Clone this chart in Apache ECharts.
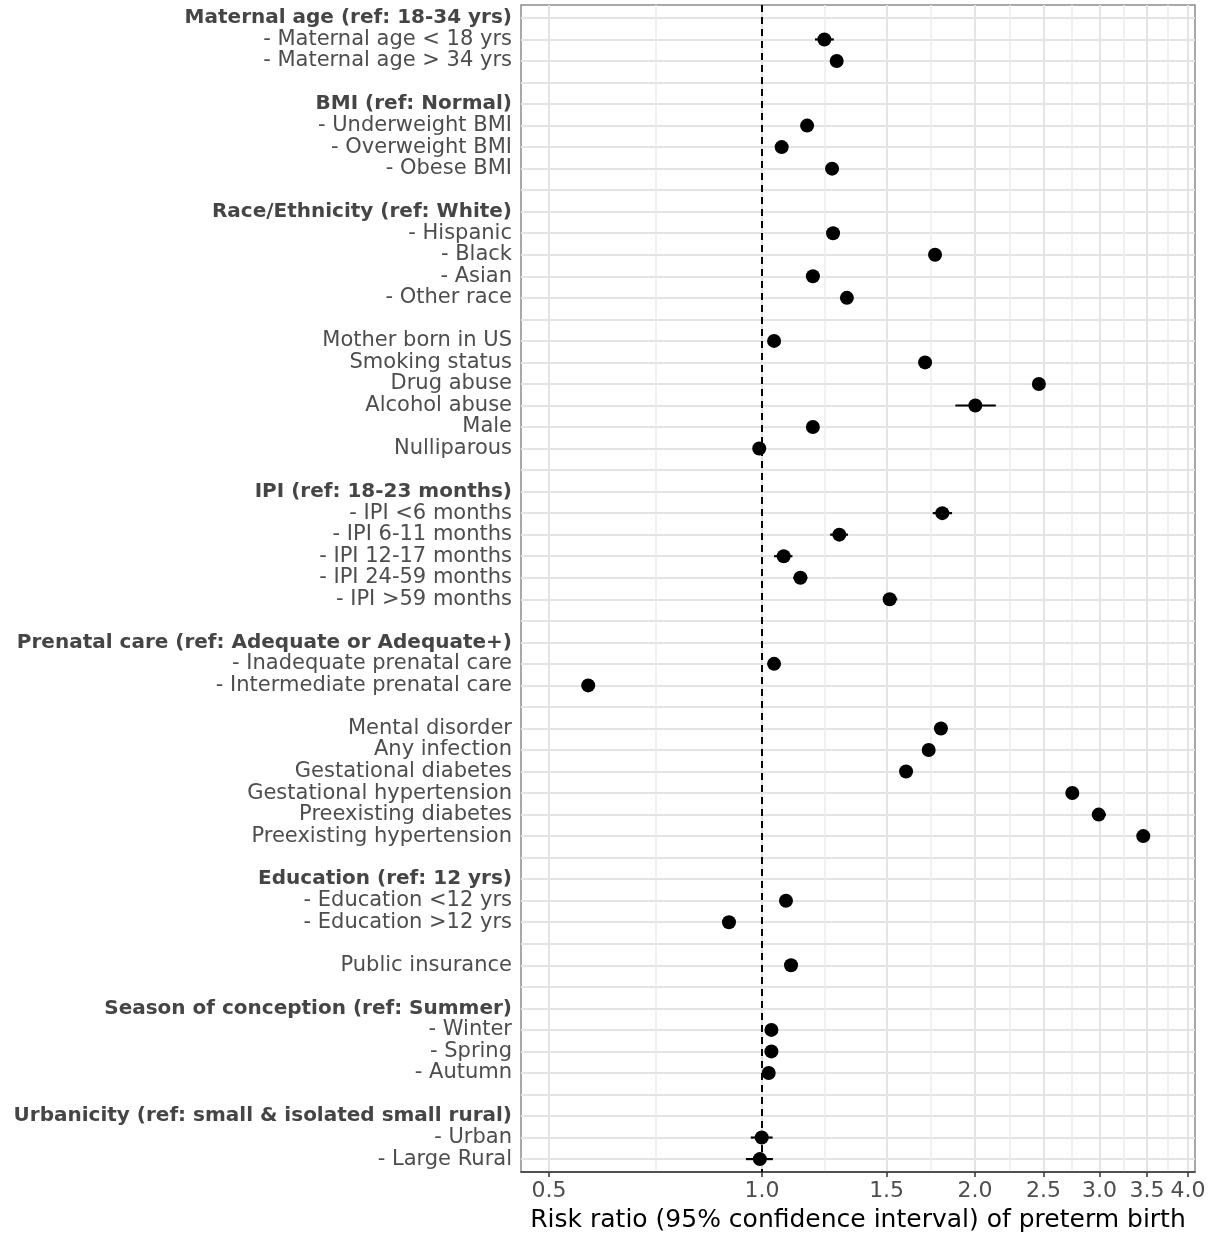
<!DOCTYPE html>
<html>
<head>
<meta charset="utf-8">
<script src="https://cdn.jsdelivr.net/npm/echarts@6/dist/echarts.min.js"></script>
<style>
html, body { margin: 0; padding: 0; background: #fff; }
#chart { width: 1212px; height: 1236px; }
</style>
</head>
<body>
<div id="chart"></div>
<script>
// rows top to bottom, '' = spacer row between groups
const rowLabels = [
  'Maternal age (ref: 18-34 yrs)', '- Maternal age < 18 yrs', '- Maternal age > 34 yrs', '',
  'BMI (ref: Normal)', '- Underweight BMI', '- Overweight BMI', '- Obese BMI', '',
  'Race/Ethnicity (ref: White)', '- Hispanic', '- Black', '- Asian', '- Other race', '',
  'Mother born in US', 'Smoking status', 'Drug abuse', 'Alcohol abuse', 'Male', 'Nulliparous', '',
  'IPI (ref: 18-23 months)', '- IPI <6 months', '- IPI 6-11 months', '- IPI 12-17 months', '- IPI 24-59 months', '- IPI >59 months', '',
  'Prenatal care (ref: Adequate or Adequate+)', '- Inadequate prenatal care', '- Intermediate prenatal care', '',
  'Mental disorder', 'Any infection', 'Gestational diabetes', 'Gestational hypertension', 'Preexisting diabetes', 'Preexisting hypertension', '',
  'Education (ref: 12 yrs)', '- Education <12 yrs', '- Education >12 yrs', '',
  'Public insurance', '',
  'Season of conception (ref: Summer)', '- Winter', '- Spring', '- Autumn', '',
  'Urbanicity (ref: small & isolated small rural)', '- Urban', '- Large Rural'
];

const headerLabels = [
  'Maternal age (ref: 18-34 yrs)', 'BMI (ref: Normal)', 'Race/Ethnicity (ref: White)',
  'IPI (ref: 18-23 months)', 'Prenatal care (ref: Adequate or Adequate+)',
  'Education (ref: 12 yrs)', 'Season of conception (ref: Summer)',
  'Urbanicity (ref: small & isolated small rural)'
];

const riskRatio = [
  null, 1.225, 1.275, null,
  null, 1.158, 1.066, 1.256, null,
  null, 1.260, 1.756, 1.180, 1.318, null,
  1.040, 1.700, 2.462, 2.002, 1.180, 0.991, null,
  null, 1.798, 1.286, 1.073, 1.133, 1.515, null,
  null, 1.040, 0.568, null,
  1.790, 1.720, 1.598, 2.745, 2.991, 3.458, null,
  null, 1.081, 0.898, null,
  1.099, null,
  null, 1.031, 1.031, 1.022, null,
  null, 0.999, 0.993
];

const ciLower = [
  null, 1.188, 1.262, null,
  null, 1.145, 1.055, 1.240, null,
  null, 1.248, 1.735, 1.165, 1.300, null,
  1.030, 1.680, 2.430, 1.876, 1.168, 0.982, null,
  null, 1.743, 1.248, 1.040, 1.107, 1.484, null,
  null, 1.028, 0.560, null,
  1.770, 1.700, 1.580, 2.715, 2.933, 3.420, null,
  null, 1.068, 0.888, null,
  1.086, null,
  null, 1.018, 1.018, 1.008, null,
  null, 0.964, 0.949
];

const ciUpper = [
  null, 1.263, 1.288, null,
  null, 1.171, 1.077, 1.272, null,
  null, 1.272, 1.777, 1.195, 1.336, null,
  1.050, 1.720, 2.494, 2.140, 1.192, 1.000, null,
  null, 1.856, 1.323, 1.104, 1.159, 1.553, null,
  null, 1.052, 0.576, null,
  1.810, 1.740, 1.616, 2.775, 3.063, 3.496, null,
  null, 1.094, 0.908, null,
  1.112, null,
  null, 1.044, 1.044, 1.036, null,
  null, 1.035, 1.036
];

const xTicks = [0.5, 1.0, 1.5, 2.0, 2.5, 3.0, 3.5, 4.0];
const refValue = 1;

// minor grid lines sit halfway between the major breaks on the log scale
const xMinor = xTicks.slice(1).map((t, i) => Math.sqrt(t * xTicks[i]));
const rowIdx = rowLabels.map((_, i) => i + 1);

const points = [];
const bars = [];
riskRatio.forEach((v, i) => {
  if (v == null) return;
  points.push([v, i + 1]);
  bars.push([ciLower[i], ciUpper[i], i + 1]);
});

const font = 'DejaVu Sans';
const chart = echarts.init(document.getElementById('chart'), null, { renderer: 'canvas' });

const option = {
  animation: false,
  backgroundColor: '#fff',
  grid: {
    left: 521, top: 5, right: 17, bottom: 64,
    show: true, borderColor: '#8c8c8c', borderWidth: 1.5,
    containLabel: false, outerBoundsMode: 'none'
  },
  xAxis: [
    {
      type: 'log',
      min: 0.4564, max: 4.092,
      name: 'Risk ratio (95% confidence interval) of preterm birth',
      nameLocation: 'middle', nameGap: 36,
      nameTextStyle: { fontFamily: font, fontSize: 25, color: '#000' },
      axisLine: { show: true, lineStyle: { color: '#333', width: 1.5 } },
      axisTick: { show: true, length: 5, customValues: xTicks, lineStyle: { color: '#333', width: 1.5 } },
      axisLabel: {
        customValues: xTicks, margin: 8,
        fontFamily: font, fontSize: 22, color: '#4d4d4d',
        formatter: v => Number(v).toFixed(1)
      },
      splitLine: { show: true, lineStyle: { color: '#e4e4e4', width: 2 } },
      minorTick: { show: false }
    },
    {
      type: 'log',
      min: 0.4564, max: 4.092,
      position: 'top',
      axisLine: { show: false },
      axisTick: { show: false, customValues: xMinor },
      axisLabel: { show: false, customValues: xMinor },
      splitLine: { show: true, lineStyle: { color: '#ececec', width: 1.5 } }
    }
  ],
  yAxis: {
    type: 'value',
    inverse: true,
    min: 0.4, max: 54.6,
    axisLine: { show: false },
    axisTick: { show: false, customValues: rowIdx },
    axisLabel: {
      customValues: rowIdx, margin: 9,
      fontFamily: font, fontSize: 21, color: '#4d4d4d',
      formatter: v => {
        const lab = rowLabels[Math.round(v) - 1] || '';
        return headerLabels.includes(lab) ? '{b|' + lab + '}' : lab;
      },
      rich: {
        b: { fontFamily: font, fontSize: 20, fontWeight: 'bold', color: '#454545' }
      }
    },
    splitLine: { show: true, lineStyle: { color: '#e4e4e4', width: 2 } }
  },
  series: [
    {
      type: 'custom',
      xAxisIndex: 0,
      data: bars,
      encode: { x: [0, 1], y: 2 },
      renderItem: (params, api) => {
        const a = api.coord([api.value(0), api.value(2)]);
        const b = api.coord([api.value(1), api.value(2)]);
        return {
          type: 'line',
          shape: { x1: a[0], y1: a[1], x2: b[0], y2: b[1] },
          style: { stroke: '#000', lineWidth: 2.2 }
        };
      },
      z: 3
    },
    {
      type: 'scatter',
      xAxisIndex: 0,
      data: points,
      symbol: 'circle',
      symbolSize: 14,
      itemStyle: { color: '#000', opacity: 1 },
      z: 4,
      markLine: {
        silent: true,
        symbol: ['none', 'none'],
        label: { show: false },
        lineStyle: { color: '#000', width: 2, type: [7, 5], opacity: 1 },
        data: [{ xAxis: refValue }]
      }
    }
  ]
};

chart.setOption(option);
</script>
</body>
</html>
